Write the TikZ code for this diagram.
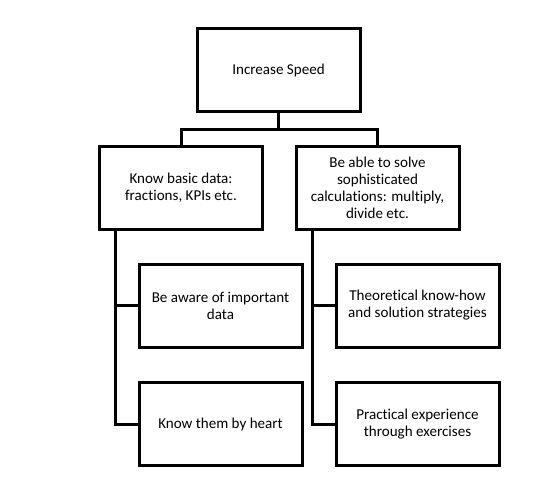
\documentclass[tikz,border=0pt]{standalone}
\usepackage{fontspec}
\setmainfont[RawFeature=-liga]{Carlito}
\usetikzlibrary{calc}

\begin{document}
\begin{tikzpicture}[line cap=rect, line join=miter, x=0.75pt, y=-0.75pt,
    goalbox/.style={draw, line width=2.25pt, minimum width=122.25pt, minimum height=62.25pt,
      inner sep=2pt, align=center, font=\fontsize{11.3}{12.75}\selectfont},
    link/.style={line width=2.25pt}]
  \useasboundingbox (0,0) rectangle (534,485);
  % top goal
  \node[goalbox] (speed) at (278.5,70) {Increase Speed};
  % two branches
  \node[goalbox] (data) at (181,187.5) {Know basic data:\\fractions, KPIs etc.};
  \node[goalbox] (calc) at (377.5,187.5) {Be able to solve\\sophisticated\\calculations: multiply,\\divide etc.};
  % leaves under the left branch
  \node[goalbox] (aware) at (220.5,305.5) {Be aware of important\\data};
  \node[goalbox] (heart) at (220.5,424) {Know them by heart};
  % leaves under the right branch
  \node[goalbox] (theory) at (417.5,305.5) {Theoretical know-how\\and solution strategies};
  \node[goalbox] (practice) at (417.5,424) {Practical experience\\through exercises};

  \coordinate (bus) at (278.5,129);
  \coordinate (lspine) at (115,229);
  \coordinate (rspine) at (312,229);

  \draw[link] (speed) -- (bus);
  \draw[link] (data.north) |- (bus) -| (calc.north);
  \draw[link] (lspine) |- (aware.west);
  \draw[link] (lspine) |- (heart.west);
  \draw[link] (rspine) |- (theory.west);
  \draw[link] (rspine) |- (practice.west);
\end{tikzpicture}
\end{document}
